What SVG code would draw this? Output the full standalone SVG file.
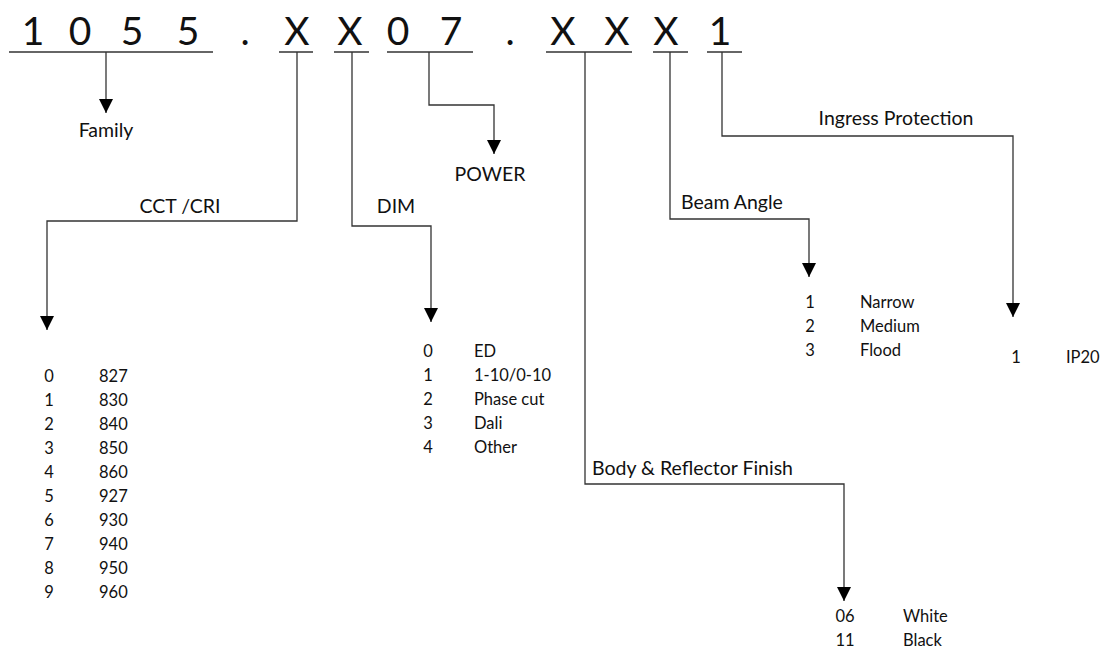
<svg xmlns="http://www.w3.org/2000/svg" width="1103" height="649" viewBox="0 0 1103 649">
<style>
.code{font-family:Lato,"Liberation Sans",sans-serif;font-size:39px;fill:#111;text-anchor:middle}
.lbl{font-family:Lato,"Liberation Sans",sans-serif;font-size:19.5px;fill:#111}
.lst{font-family:Lato,"Liberation Sans",sans-serif;font-size:16.5px;fill:#111}
.mid{text-anchor:middle}
.ul{stroke:#333;stroke-width:1.3;fill:none}
.con{stroke:#333;stroke-width:1.3;fill:none;marker-end:url(#ah)}
</style>
<defs>
<marker id="ah" markerUnits="userSpaceOnUse" markerWidth="14" markerHeight="15" refX="14" refY="7" orient="auto" viewBox="0 0 14 14">
<path d="M0,0 L14,7 L0,14 z" fill="#000"/>
</marker>
</defs>
<rect width="1103" height="649" fill="#fff"/>
<g id="code">
<text class="code" x="33" y="45">1</text>
<text class="code" x="80" y="45">0</text>
<text class="code" x="132" y="45">5</text>
<text class="code" x="188" y="45">5</text>
<text class="code" x="245" y="45">.</text>
<text class="code" x="297" y="45">X</text>
<text class="code" x="350" y="45">X</text>
<text class="code" x="398" y="45">0</text>
<text class="code" x="451" y="45">7</text>
<text class="code" x="510" y="45">.</text>
<text class="code" x="563" y="45">X</text>
<text class="code" x="617" y="45">X</text>
<text class="code" x="666" y="45">X</text>
<text class="code" x="720" y="45">1</text>
<line class="ul" x1="9" y1="52" x2="213" y2="52"/>
<line class="ul" x1="279" y1="52" x2="313" y2="52"/>
<line class="ul" x1="334" y1="52" x2="369" y2="52"/>
<line class="ul" x1="387" y1="52" x2="473" y2="52"/>
<line class="ul" x1="546" y1="52" x2="632" y2="52"/>
<line class="ul" x1="653" y1="52" x2="688" y2="52"/>
<line class="ul" x1="707" y1="52" x2="742" y2="52"/>
</g>
<g id="connectors">
<path class="con" d="M106,52 V113"/>
<path class="con" d="M297,52 V221 H47 V330"/>
<path class="con" d="M352,52 V226 H431 V322"/>
<path class="con" d="M429,52 V105 H494 V154"/>
<path class="con" d="M585,52 V484 H844 V601"/>
<path class="con" d="M670,52 V219 H809 V277"/>
<path class="con" d="M722,52 V136 H1013 V317"/>
</g>
<g id="family">
<text class="lbl mid" x="106" y="137">Family</text>
</g>
<g id="power">
<text class="lbl mid" x="490" y="181">POWER</text>
</g>
<g id="cct">
<text class="lbl mid" x="180" y="213">CCT /CRI</text>
<text class="lst mid" x="49" y="382">0</text><text class="lst" x="99" y="382">827</text>
<text class="lst mid" x="49" y="406">1</text><text class="lst" x="99" y="406">830</text>
<text class="lst mid" x="49" y="430">2</text><text class="lst" x="99" y="430">840</text>
<text class="lst mid" x="49" y="454">3</text><text class="lst" x="99" y="454">850</text>
<text class="lst mid" x="49" y="478">4</text><text class="lst" x="99" y="478">860</text>
<text class="lst mid" x="49" y="502">5</text><text class="lst" x="99" y="502">927</text>
<text class="lst mid" x="49" y="526">6</text><text class="lst" x="99" y="526">930</text>
<text class="lst mid" x="49" y="550">7</text><text class="lst" x="99" y="550">940</text>
<text class="lst mid" x="49" y="574">8</text><text class="lst" x="99" y="574">950</text>
<text class="lst mid" x="49" y="598">9</text><text class="lst" x="99" y="598">960</text>
</g>
<g id="dim">
<text class="lbl mid" x="396" y="213">DIM</text>
<text class="lst mid" x="428" y="357">0</text><text class="lst" x="474" y="357">ED</text>
<text class="lst mid" x="428" y="381">1</text><text class="lst" x="474" y="381">1-10/0-10</text>
<text class="lst mid" x="428" y="405">2</text><text class="lst" x="474" y="405">Phase cut</text>
<text class="lst mid" x="428" y="429">3</text><text class="lst" x="474" y="429">Dali</text>
<text class="lst mid" x="428" y="453">4</text><text class="lst" x="474" y="453">Other</text>
</g>
<g id="beam">
<text class="lbl" x="681" y="209">Beam Angle</text>
<text class="lst mid" x="810" y="308">1</text><text class="lst" x="860" y="308">Narrow</text>
<text class="lst mid" x="810" y="332">2</text><text class="lst" x="860" y="332">Medium</text>
<text class="lst mid" x="810" y="356">3</text><text class="lst" x="860" y="356">Flood</text>
</g>
<g id="ingress">
<text class="lbl mid" x="896" y="125">Ingress Protection</text>
<text class="lst mid" x="1016" y="363">1</text><text class="lst" x="1066" y="363">IP20</text>
</g>
<g id="finish">
<text class="lbl" x="592" y="475">Body &amp; Reflector Finish</text>
<text class="lst mid" x="845" y="622">06</text><text class="lst" x="903" y="622">White</text>
<text class="lst mid" x="845" y="646">11</text><text class="lst" x="903" y="646">Black</text>
</g>
</svg>
